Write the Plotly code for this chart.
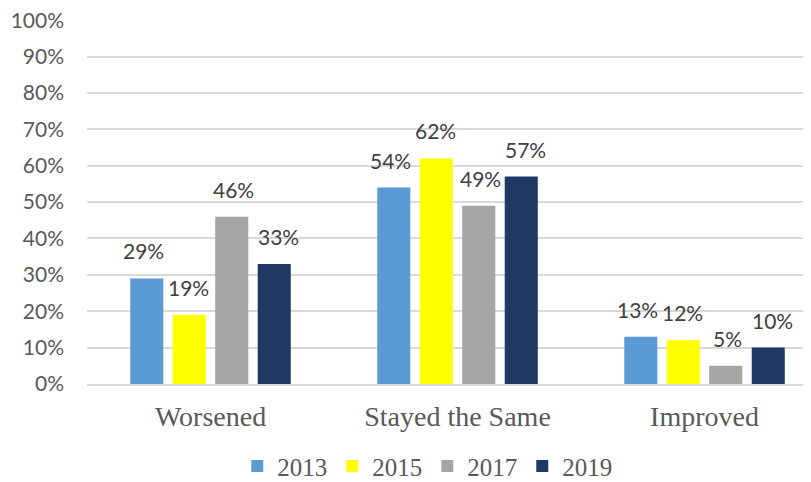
import plotly.graph_objects as go

categories = ["Worsened", "Stayed the Same", "Improved"]
years = ["2013", "2015", "2017", "2019"]
values = {
    "2013": [29, 54, 13],
    "2015": [19, 62, 12],
    "2017": [46, 49, 5],
    "2019": [33, 57, 10],
}
colors = {"2013": "#5B9BD5", "2015": "#FFFF00", "2017": "#A5A5A5", "2019": "#203864"}
y_ticks = [i / 10 for i in range(11)]
y_ticktext = [f"{i * 10}%" for i in range(11)]

fig = go.Figure()
for y in years:
    fig.add_trace(go.Bar(
        name=y, x=categories, y=[v / 100 for v in values[y]],
        marker=dict(color=colors[y], line=dict(width=0)),
    ))

# data labels, placed above each bar of the grouped layout
slot_px = 45  # pixel distance between neighbouring bars of a group
for i, y in enumerate(years):
    for cat, v in zip(categories, values[y]):
        fig.add_annotation(
            x=cat, y=v / 100, text=f"{v}%", showarrow=False,
            xshift=(i - 1.5) * slot_px, yshift=13, yanchor="bottom",
            font=dict(family="Lato, Open Sans, sans-serif", size=21, color="#404040"),
        )

fig.update_layout(
    width=803, height=490,
    margin=dict(l=79, r=0, t=12, b=114),
    barmode="group", bargap=0.312, bargroupgap=0.222,
    plot_bgcolor="white", paper_bgcolor="white",
    showlegend=True,
    legend=dict(orientation="h", x=0.47, xanchor="center", y=-0.226, yanchor="middle",
                font=dict(family="Liberation Serif, serif", size=25, color="#595959"),
                bgcolor="rgba(0,0,0,0)", traceorder="normal", itemwidth=30),
    xaxis=dict(tickfont=dict(family="Liberation Serif, serif", size=28, color="#595959"),
               range=[-0.5, 2.431],
               showline=True, linecolor="#D9D9D9", linewidth=1.5, ticks="",
               automargin=False, ticklabelstandoff=7),
    yaxis=dict(range=[0, 1.0005], tickvals=y_ticks, ticktext=y_ticktext,
               tickfont=dict(family="Lato, Open Sans, sans-serif", size=21, color="#595959"),
               gridcolor="#D9D9D9", gridwidth=1.5, zeroline=False, ticks="", ticklen=0,
               automargin=False, ticklabelstandoff=22, ticklabeloverflow="allow"),
)
fig.write_html("out.html")
